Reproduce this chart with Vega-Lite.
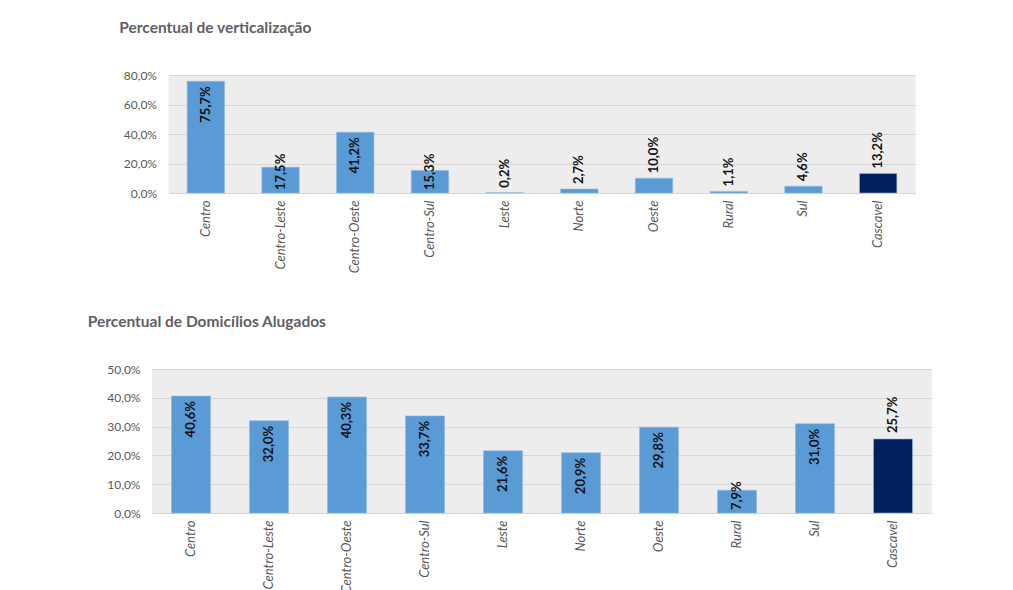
{
  "$schema": "https://vega.github.io/schema/vega-lite/v6.json",
  "background": "white",
  "padding": {"left": 87, "top": 20, "right": 5, "bottom": 0},
  "center": true,
  "spacing": 41,
  "config": {
    "locale": {"number": {"decimal": ",", "thousands": ".", "grouping": [3], "currency": ["R$", ""]}},
    "font": "Lato",
    "view": {"stroke": null, "fill": "#ededed"},
    "axis": {"labelFont": "Lato", "labelColor": "#595959", "labelFontSize": 12, "domain": false, "ticks": false, "title": null},
    "title": {"font": "Lato", "fontSize": 15.5, "fontWeight": "bold", "color": "#606066", "anchor": "start"}
  },
  "datasets": {
    "vert": [
      {"regiao": "Centro", "valor": 0.757},
      {"regiao": "Centro-Leste", "valor": 0.175},
      {"regiao": "Centro-Oeste", "valor": 0.412},
      {"regiao": "Centro-Sul", "valor": 0.153},
      {"regiao": "Leste", "valor": 0.002},
      {"regiao": "Norte", "valor": 0.027},
      {"regiao": "Oeste", "valor": 0.100},
      {"regiao": "Rural", "valor": 0.011},
      {"regiao": "Sul", "valor": 0.046},
      {"regiao": "Cascavel", "valor": 0.132}
    ],
    "alug": [
      {"regiao": "Centro", "valor": 0.406},
      {"regiao": "Centro-Leste", "valor": 0.320},
      {"regiao": "Centro-Oeste", "valor": 0.403},
      {"regiao": "Centro-Sul", "valor": 0.337},
      {"regiao": "Leste", "valor": 0.216},
      {"regiao": "Norte", "valor": 0.209},
      {"regiao": "Oeste", "valor": 0.298},
      {"regiao": "Rural", "valor": 0.079},
      {"regiao": "Sul", "valor": 0.310},
      {"regiao": "Cascavel", "valor": 0.257}
    ]
  },
  "vconcat": [
    {
      "title": {"text": "Percentual de verticalização", "offset": 33, "dx": -4},
      "width": 747,
      "height": 118,
      "data": {"name": "vert"},
      "encoding": {
        "x": {"field": "regiao", "type": "nominal", "sort": null, "scale": {"paddingInner": 0.5, "paddingOuter": 0.25},
              "axis": {"labelAngle": -90, "labelFontStyle": "italic", "labelFontSize": 13, "labelPadding": 7, "grid": false}},
        "y": {"field": "valor", "type": "quantitative", "scale": {"domain": [0, 0.8]},
              "axis": {"values": [0, 0.2, 0.4, 0.6, 0.8], "format": ".1%", "labelPadding": 12, "gridColor": "#d6d6d6"}}
      },
      "layer": [
        {"mark": {"type": "bar", "stroke": "#8fb8e0", "strokeWidth": 0.6},
         "encoding": {"color": {"condition": {"test": "datum.regiao === 'Cascavel'", "value": "#002060"}, "value": "#5b9bd5"}}},
        {"transform": [{"filter": "datum.valor >= 0.3 && datum.regiao !== 'Cascavel'"}],
         "mark": {"type": "text", "angle": 270, "align": "right", "baseline": "middle", "dx": -5, "fontSize": 13, "fontWeight": "bold", "color": "#111"},
         "encoding": {"text": {"field": "valor", "type": "quantitative", "format": ".1%"}}},
        {"transform": [{"filter": "datum.valor >= 0.12 && datum.valor < 0.3 && datum.regiao !== 'Cascavel'"}],
         "mark": {"type": "text", "angle": 270, "align": "left", "baseline": "middle", "dx": 3, "fontSize": 13, "fontWeight": "bold", "color": "#111"},
         "encoding": {"y": {"datum": 0}, "text": {"field": "valor", "type": "quantitative", "format": ".1%"}}},
        {"transform": [{"filter": "datum.valor < 0.12 || datum.regiao === 'Cascavel'"}],
         "mark": {"type": "text", "angle": 270, "align": "left", "baseline": "middle", "dx": 5, "fontSize": 13, "fontWeight": "bold", "color": "#111"},
         "encoding": {"text": {"field": "valor", "type": "quantitative", "format": ".1%"}}}
      ]
    },
    {
      "title": {"text": "Percentual de Domicílios Alugados", "offset": 33, "dx": -19},
      "width": 780,
      "height": 144,
      "data": {"name": "alug"},
      "encoding": {
        "x": {"field": "regiao", "type": "nominal", "sort": null, "scale": {"paddingInner": 0.5, "paddingOuter": 0.25},
              "axis": {"labelAngle": -90, "labelFontStyle": "italic", "labelFontSize": 13, "labelPadding": 7, "grid": false}},
        "y": {"field": "valor", "type": "quantitative", "scale": {"domain": [0, 0.5]},
              "axis": {"values": [0, 0.1, 0.2, 0.3, 0.4, 0.5], "format": ".1%", "labelPadding": 12, "gridColor": "#d6d6d6"}}
      },
      "layer": [
        {"mark": {"type": "bar", "stroke": "#8fb8e0", "strokeWidth": 0.6},
         "encoding": {"color": {"condition": {"test": "datum.regiao === 'Cascavel'", "value": "#002060"}, "value": "#5b9bd5"}}},
        {"transform": [{"filter": "datum.valor >= 0.15 && datum.regiao !== 'Cascavel'"}],
         "mark": {"type": "text", "angle": 270, "align": "right", "baseline": "middle", "dx": -5, "fontSize": 13, "fontWeight": "bold", "color": "#111"},
         "encoding": {"text": {"field": "valor", "type": "quantitative", "format": ".1%"}}},
        {"transform": [{"filter": "datum.valor < 0.15 && datum.regiao !== 'Cascavel'"}],
         "mark": {"type": "text", "angle": 270, "align": "left", "baseline": "middle", "dx": 3, "fontSize": 13, "fontWeight": "bold", "color": "#111"},
         "encoding": {"y": {"datum": 0}, "text": {"field": "valor", "type": "quantitative", "format": ".1%"}}},
        {"transform": [{"filter": "datum.regiao === 'Cascavel'"}],
         "mark": {"type": "text", "angle": 270, "align": "left", "baseline": "middle", "dx": 6, "fontSize": 13, "fontWeight": "bold", "color": "#111"},
         "encoding": {"text": {"field": "valor", "type": "quantitative", "format": ".1%"}}}
      ]
    }
  ]
}
